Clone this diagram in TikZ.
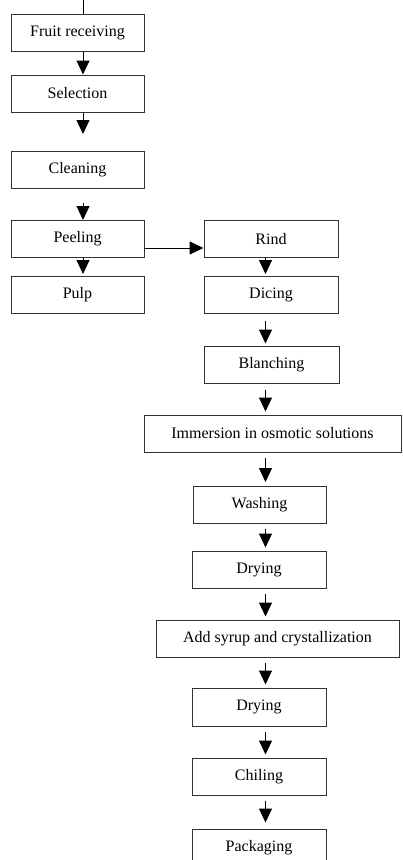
\documentclass[tikz,border=0pt]{standalone}
\usepackage{fontspec}
\setmainfont{Liberation Serif}
\usetikzlibrary{arrows.meta}

\begin{document}
\begin{tikzpicture}[x=1pt,y=-1pt,
    box/.style={draw=black!80,line width=1pt,minimum width=133pt,minimum height=37pt,
      inner sep=0pt,font=\fontsize{16}{19}\selectfont},
    arr/.style={line width=1pt,-{Triangle[width=13pt,length=14pt]}}]
      \useasboundingbox (0,0) rectangle (402,860);

      \coordinate (xl) at (83,0);
      \coordinate (xr) at (265.5,0);

      \path
      (77.5,32.5) node[box](fruit) {Fruit receiving}
      (77.5,93.5) node[box](sel) {Selection}
      (77.5,170) node[box](clean) {Cleaning}
      (77.5,239) node[box](peel) {Peeling}
      (77.5,295) node[box](pulp) {Pulp}
      ;
      \path
      (271,239) node[box,minimum width=134pt](rind) {Rind}
      (271,295) node[box,minimum width=134pt](dice) {Dicing}
      (271.5,364.5) node[box,minimum width=135pt](blanch) {Blanching}
      (272.5,433.5) node[box,minimum width=257pt](osm) {Immersion in osmotic solutions}
      (259.5,505) node[box](wash) {Washing}
      (259,569.5) node[box,minimum width=134pt](dry1) {Drying}
      (277.5,638.5) node[box,minimum width=243pt](syrup) {Add syrup and crystallization}
      (259,707) node[box,minimum width=134pt,minimum height=38pt](dry2) {Drying}
      (259,776.5) node[box,minimum width=134pt](chil) {Chiling}
      (259,847.5) node[box,minimum width=134pt](pack) {Packaging}
      ;

      \draw[line width=1pt] (xl) -- (fruit.north -| xl);
      \draw[arr] (fruit.south -| xl) -- (sel.north -| xl);
      \draw[arr,shorten >=17pt] (sel.south -| xl) -- (clean.north -| xl);
      \draw[arr,shorten <=14pt] (clean.south -| xl) -- (peel.north -| xl);
      \draw[arr,shorten >=2pt] (peel.south -| xl) -- (pulp.north -| xl);
      \draw[arr] ([yshift=-9pt]peel.east) -- ([yshift=-9pt]rind.west);

      \draw[arr,shorten >=2pt] (rind.south -| xr) -- (dice.north -| xr);
      \draw[arr,shorten <=7pt,shorten >=2pt] (dice.south -| xr) -- (blanch.north -| xr);
      \draw[arr,shorten <=6pt,shorten >=3pt] (blanch.south -| xr) -- (osm.north -| xr);
      \draw[arr,shorten <=5pt,shorten >=4pt] (osm.south -| xr) -- (wash.north -| xr);
      \draw[arr,shorten <=5pt,shorten >=3pt] (wash.south -| xr) -- (dry1.north -| xr);
      \draw[arr,shorten <=5pt,shorten >=3pt] (dry1.south -| xr) -- (syrup.north -| xr);
      \draw[arr,shorten <=5pt,shorten >=3pt] (syrup.south -| xr) -- (dry2.north -| xr);
      \draw[arr,shorten <=5pt,shorten >=3pt] (dry2.south -| xr) -- (chil.north -| xr);
      \draw[arr,shorten <=5pt,shorten >=6pt] (chil.south -| xr) -- (pack.north -| xr);
    \end{tikzpicture}
\end{document}
